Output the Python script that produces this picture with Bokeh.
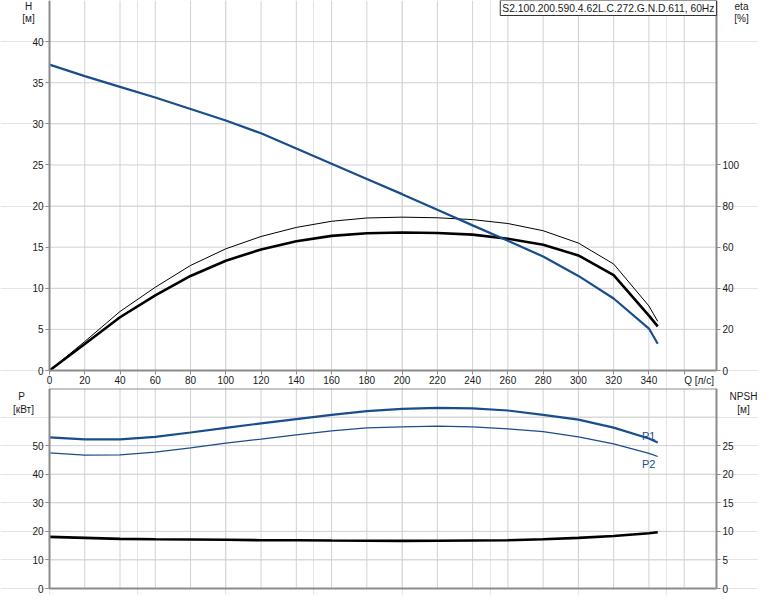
from bokeh.plotting import figure
from bokeh.models import Range1d, LinearAxis, FixedTicker, Label
from bokeh.layouts import column
from bokeh.embed import file_html
from bokeh.resources import INLINE

# ---------------- data ----------------
Q = [0, 20, 40, 60, 80, 100, 120, 140, 160, 180, 200, 220, 240, 260, 280, 300, 320, 340, 345]
H = [37.2, 35.8, 34.5, 33.2, 31.8, 30.4, 28.85, 27.0, 25.15, 23.3, 21.45, 19.55, 17.65,
     15.78, 13.86, 11.5, 8.76, 5.1, 3.26]
ETA_PUMP = [0, 12.9, 25.9, 36.5, 46.0, 53.4, 58.9, 62.9, 65.5, 66.8, 67.1, 66.9, 66.1,
            64.1, 61.2, 56.0, 46.4, 26.7, 21.5]
ETA_HYD = [0, 14.1, 28.7, 40.5, 51.1, 59.2, 65.2, 69.6, 72.6, 74.2, 74.6, 74.3, 73.4,
           71.5, 68.0, 62.0, 51.8, 31.4, 23.9]
P1 = [52.9, 52.2, 52.2, 53.1, 54.6, 56.2, 57.8, 59.3, 60.8, 62.1, 62.9, 63.2, 63.05,
      62.3, 60.8, 59.1, 56.3, 52.5, 51.1]
P2 = [47.5, 46.7, 46.8, 47.7, 49.2, 50.9, 52.3, 53.8, 55.2, 56.2, 56.6, 56.8, 56.55,
      55.9, 54.9, 53.1, 50.6, 47.3, 46.2]
NPSH = [9.03, 8.86, 8.69, 8.62, 8.57, 8.52, 8.45, 8.45, 8.4, 8.36, 8.33, 8.35, 8.4,
        8.45, 8.62, 8.86, 9.2, 9.66, 9.83]

Q_TICKS = list(range(0, 361, 20))
H_TICKS = list(range(0, 41, 5))
ETA_TICKS = [0, 20, 40, 60, 80, 100]
P_TICKS = [0, 10, 20, 30, 40, 50]
P_GRID = [10, 20, 30, 40, 50, 60]
NPSH_TICKS = [0, 5, 10, 15, 20, 25]

TITLE = "S2.100.200.590.4.62L.C.272.G.N.D.611, 60Hz"

# ---------------- styles / geometry ----------------
FONT = "Liberation Sans"
BLUE = "#1a4d8c"
GRID = "#d2d2d2"
AXIS = "#8c8c8c"
TXT = "#1a1a1a"
FS = "10px"

W = 758
H1_PX, H2_PX = 388, 207
LEFT_PX = 49            # pixel of Q = 0
PX_PER_Q = 1.763
X_MAX = 378.3           # right edge of the plotting area
H_MAX = 45.0
TOP_PLOT_PX = 370       # pixel height of H axis 0..45
P_MAX = 70.0
BOT_PLOT_PX = 200       # pixel height of P axis 0..70

x_lo = -LEFT_PX / PX_PER_Q
x_hi = (W - LEFT_PX) / PX_PER_Q
h_per_px = H_MAX / TOP_PLOT_PX
p_per_px = P_MAX / BOT_PLOT_PX


def style_axis(ax, ticks, overrides=None):
    ax.ticker = FixedTicker(ticks=ticks)
    ax.minor_tick_line_color = None
    ax.major_tick_in = 0
    ax.major_tick_out = 4
    ax.major_tick_line_color = AXIS
    ax.axis_line_color = AXIS
    ax.axis_line_width = 2
    ax.major_label_text_font = FONT
    ax.major_label_text_font_size = FS
    ax.major_label_text_color = TXT
    ax.major_label_standoff = 2
    if overrides:
        ax.major_label_overrides = overrides


def lab(p, x, y, text, align="center", color=TXT, size=FS):
    p.add_layout(Label(x=x, y=y, text=text, text_align=align, text_baseline="middle",
                       text_font=FONT, text_font_size=size, text_color=color))


def base_fig(height, y_lo, y_hi):
    p = figure(width=W, height=height, x_range=Range1d(x_lo, x_hi), y_range=Range1d(y_lo, y_hi),
               output_backend="svg", toolbar_location=None,
               x_axis_location=None, y_axis_location=None,
               min_border_left=0, min_border_right=0, min_border_top=0, min_border_bottom=0)
    p.outline_line_color = None
    return p


# ---------------- top chart: H and eta ----------------
p1 = base_fig(H1_PX, -(H1_PX - TOP_PLOT_PX) * h_per_px, H_MAX)
p1.extra_y_ranges = {"eta": Range1d(p1.y_range.start * 4, H_MAX * 4)}

# grid
p1.segment(x0=Q_TICKS, y0=[0] * len(Q_TICKS), x1=Q_TICKS, y1=[H_MAX] * len(Q_TICKS),
           line_color=GRID, line_width=1)
p1.segment(x0=[0] * len(H_TICKS), y0=H_TICKS, x1=[X_MAX] * len(H_TICKS), y1=H_TICKS,
           line_color=GRID, line_width=1)

ax_q = LinearAxis(fixed_location=0, bounds=(0, X_MAX))
style_axis(ax_q, Q_TICKS, {360: ""})
ax_q.major_label_standoff = 1
p1.add_layout(ax_q, "below")
ax_h = LinearAxis(fixed_location=0, bounds=(0, H_MAX))
style_axis(ax_h, H_TICKS)
p1.add_layout(ax_h, "left")
ax_eta = LinearAxis(y_range_name="eta", fixed_location=X_MAX, bounds=(0, H_MAX * 4))
style_axis(ax_eta, ETA_TICKS)
p1.add_layout(ax_eta, "right")

p1.line(Q, ETA_HYD, y_range_name="eta", line_color="black", line_width=1)
p1.line(Q, ETA_PUMP, y_range_name="eta", line_color="black", line_width=2.6)
p1.line(Q, H, line_color=BLUE, line_width=2.2)


def top_xy(px, py):
    return (px - LEFT_PX) / PX_PER_Q, H_MAX - py * h_per_px


lab(p1, *top_xy(28, 6), "H")
lab(p1, *top_xy(28, 18), "[м]")
lab(p1, *top_xy(741, 6), "eta")
lab(p1, *top_xy(741, 18), "[%]")
lab(p1, 360, top_xy(0, TOP_PLOT_PX + 10)[1], "Q [л/с]", align="left")
p1.add_layout(Label(x=X_MAX, y=H_MAX, text=TITLE, anchor="top_right", text_align="right",
                    text_baseline="top", text_font=FONT, text_font_size="10.3px",
                    text_color=TXT, padding=2, border_line_color="#333333",
                    background_fill_color="white"))

# ---------------- bottom chart: P and NPSH ----------------
p2 = base_fig(H2_PX, -(H2_PX - BOT_PLOT_PX) * p_per_px, P_MAX)
p2.extra_y_ranges = {"npsh": Range1d(p2.y_range.start / 2, P_MAX / 2)}

p2.segment(x0=Q_TICKS, y0=[0] * len(Q_TICKS), x1=Q_TICKS, y1=[P_MAX] * len(Q_TICKS),
           line_color=GRID, line_width=1)
p2.segment(x0=[0] * len(P_GRID), y0=P_GRID, x1=[X_MAX] * len(P_GRID), y1=P_GRID,
           line_color=GRID, line_width=1)

ax_qb = LinearAxis(fixed_location=0, bounds=(0, X_MAX))
style_axis(ax_qb, [])
p2.add_layout(ax_qb, "below")
ax_qt = LinearAxis(fixed_location=P_MAX, bounds=(0, X_MAX))
style_axis(ax_qt, [])
p2.add_layout(ax_qt, "above")
ax_p = LinearAxis(fixed_location=0, bounds=(0, P_MAX))
style_axis(ax_p, P_TICKS)
p2.add_layout(ax_p, "left")
ax_npsh = LinearAxis(y_range_name="npsh", fixed_location=X_MAX, bounds=(0, P_MAX / 2))
style_axis(ax_npsh, NPSH_TICKS)
p2.add_layout(ax_npsh, "right")

p2.line(Q, P2, line_color=BLUE, line_width=1.3)
p2.line(Q, P1, line_color=BLUE, line_width=2.2)
p2.line(Q, NPSH, y_range_name="npsh", line_color="black", line_width=2.6)


def bot_xy(px, py):
    return (px - LEFT_PX) / PX_PER_Q, P_MAX - py * p_per_px


lab(p2, *bot_xy(21, 8), "P")
lab(p2, *bot_xy(23, 21), "[кВт]")
lab(p2, *bot_xy(743, 8), "NPSH")
lab(p2, *bot_xy(743, 21), "[м]")
lab(p2, 339.9, 53.5, "P1", color=BLUE, size="11px")
lab(p2, 339.9, 43.75, "P2", color=BLUE, size="11px")

layout = column(p1, p2, spacing=0)
open("out.html", "w").write(file_html(layout, INLINE))
